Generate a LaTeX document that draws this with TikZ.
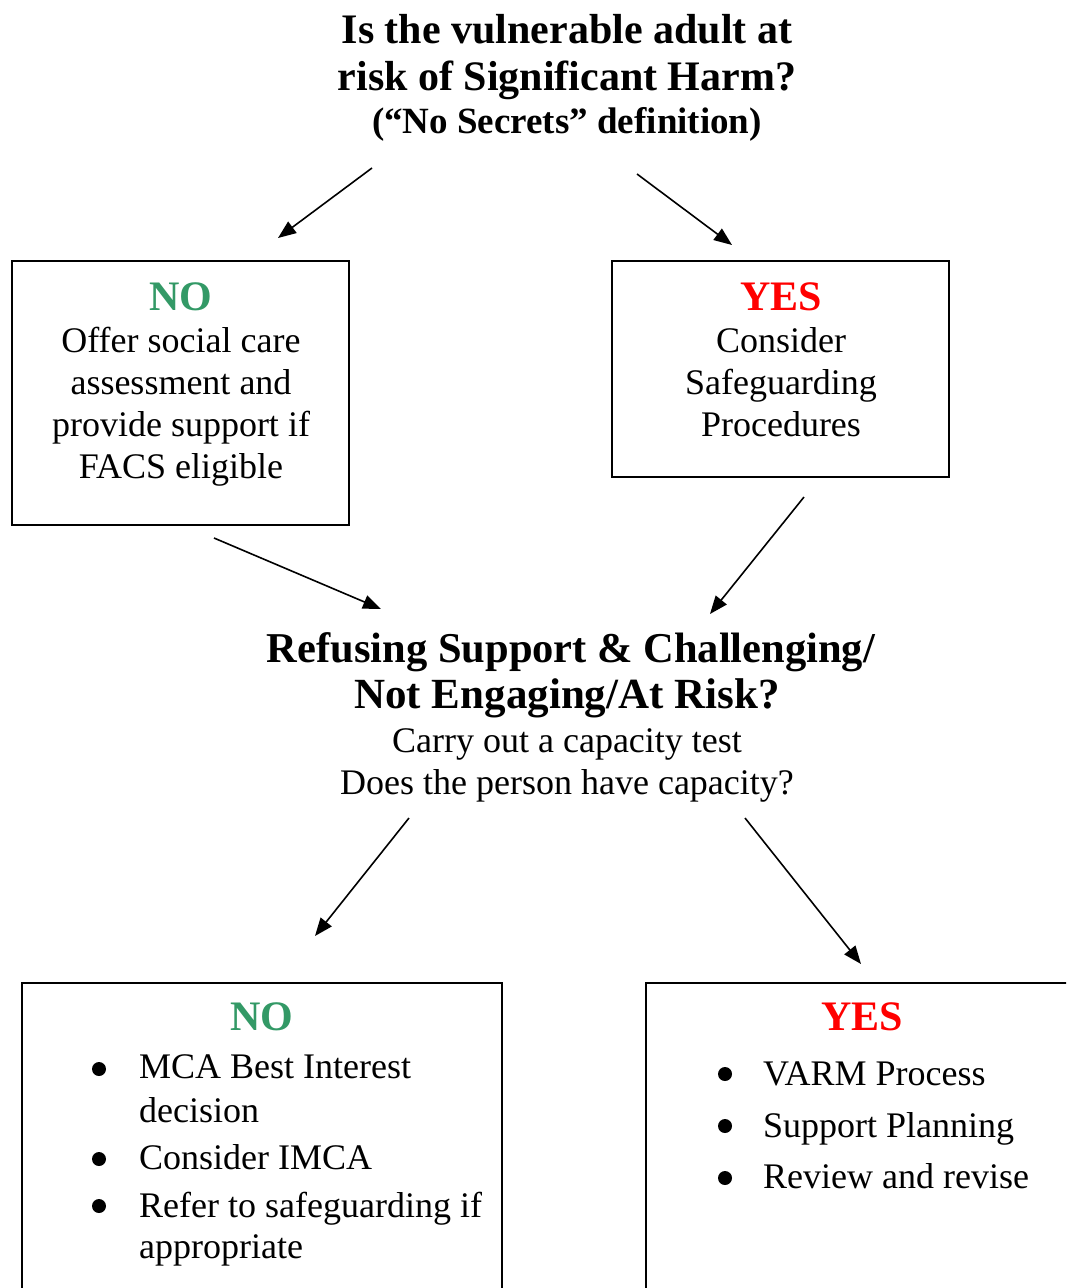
\documentclass[tikz,border=0pt]{standalone}
\usepackage{fontspec}
\setmainfont{Liberation Serif}
\usetikzlibrary{arrows.meta}
\definecolor{nogreen}{HTML}{339966}
\definecolor{yesred}{HTML}{FF0000}
\begin{document}
\begin{tikzpicture}[x=1pt,y=-1pt,
  box/.style={draw=black,line width=1.6pt,inner sep=0pt},
  body/.style={font=\fontsize{36}{42}\selectfont,inner sep=0pt,anchor=base},
  lbody/.style={font=\fontsize{36}{42}\selectfont,inner sep=0pt,anchor=base west},
  head/.style={font=\bfseries\fontsize{42}{47}\selectfont,inner sep=0pt,anchor=base},
  sub/.style={font=\bfseries\fontsize{37}{42}\selectfont,inner sep=0pt,anchor=base},
  nolab/.style={font=\bfseries\fontsize{42}{47}\selectfont,inner sep=0pt,anchor=base,text=nogreen},
  yeslab/.style={font=\bfseries\fontsize{42}{47}\selectfont,inner sep=0pt,anchor=base,text=yesred},
  arr/.style={line width=1.6pt,-{Triangle[length=18pt,width=14pt]}},
  bul/.style={fill=black}]
\useasboundingbox (0,0) rectangle (1066,1288);
\clip (0,0) rectangle (1066,1288);

% title
\node[head] (t1) at (567,43) {Is the vulnerable adult at};
\node[head] (t2) at (567,90) {risk of Significant Harm?};
\node[sub]  (t3) at (567,133) {(“No Secrets” definition)};

% top boxes
\node[box,minimum width=337pt,minimum height=264pt] (bl) at (180.5,393) {};
\node[box,minimum width=337pt,minimum height=216pt] (br) at (780.5,369) {};

\node[nolab] (bln) at (181,310) {NO};
\node[body] (bl1) at (181,352) {Offer social care};
\node[body] (bl2) at (181,394) {assessment and};
\node[body] (bl3) at (181,436) {provide support if};
\node[body] (bl4) at (181,478) {FACS eligible};

\node[yeslab] (bry) at (781,310) {YES};
\node[body] (br1) at (781,352) {Consider};
\node[body] (br2) at (781,394) {Safeguarding};
\node[body] (br3) at (781,436) {Procedures};

% middle
\node[head,font=\bfseries\fontsize{42.5}{47}\selectfont] (m1) at (571,662) {Refusing Support \& Challenging/};
\node[head,font=\bfseries\fontsize{43}{47}\selectfont] (m2) at (567,708) {Not Engaging/At Risk?};
\node[body] (m3) at (567,752) {Carry out a capacity test};
\node[body] (m4) at (567,794) {Does the person have capacity?};

% bottom boxes
\node[box,minimum width=480pt,minimum height=340pt] (cl) at (262,1153) {};
\node[box,minimum width=440pt,minimum height=340pt] (cr) at (866,1153) {};

\node[nolab] (cln) at (262,1030) {NO};
\fill[bul] (99,1069) circle (7pt);
\node[lbody] (cl1) at (139,1078) {MCA Best Interest};
\node[lbody] (cl2) at (139,1122) {decision};
\fill[bul] (99,1159) circle (7pt);
\node[lbody] (cl3) at (139,1169) {Consider IMCA};
\fill[bul] (99,1206) circle (7pt);
\node[lbody] (cl4) at (139,1217) {Refer to safeguarding if};
\node[lbody] (cl5) at (139,1258) {appropriate};

\node[yeslab] (cry) at (862,1030) {YES};
\fill[bul] (725,1074) circle (7pt);
\node[lbody] (cr1) at (763,1085) {VARM Process};
\fill[bul] (725,1126) circle (7pt);
\node[lbody] (cr2) at (763,1137) {Support Planning};
\fill[bul] (725,1178) circle (7pt);
\node[lbody] (cr3) at (763,1188) {Review and revise};

% arrows
\coordinate (a1s) at (372,168); \coordinate (a1e) at (278,238);
\coordinate (a2s) at (637,174); \coordinate (a2e) at (732,245);
\coordinate (a3s) at (214,538); \coordinate (a3e) at (381,609);
\coordinate (a4s) at (804,497); \coordinate (a4e) at (710,614);
\coordinate (a5s) at (409,818); \coordinate (a5e) at (315,936);
\coordinate (a6s) at (745,818); \coordinate (a6e) at (861,964);
\draw[arr] (a1s) -- (a1e);
\draw[arr] (a2s) -- (a2e);
\draw[arr] (a3s) -- (a3e);
\draw[arr] (a4s) -- (a4e);
\draw[arr] (a5s) -- (a5e);
\draw[arr] (a6s) -- (a6e);
\end{tikzpicture}
\end{document}
